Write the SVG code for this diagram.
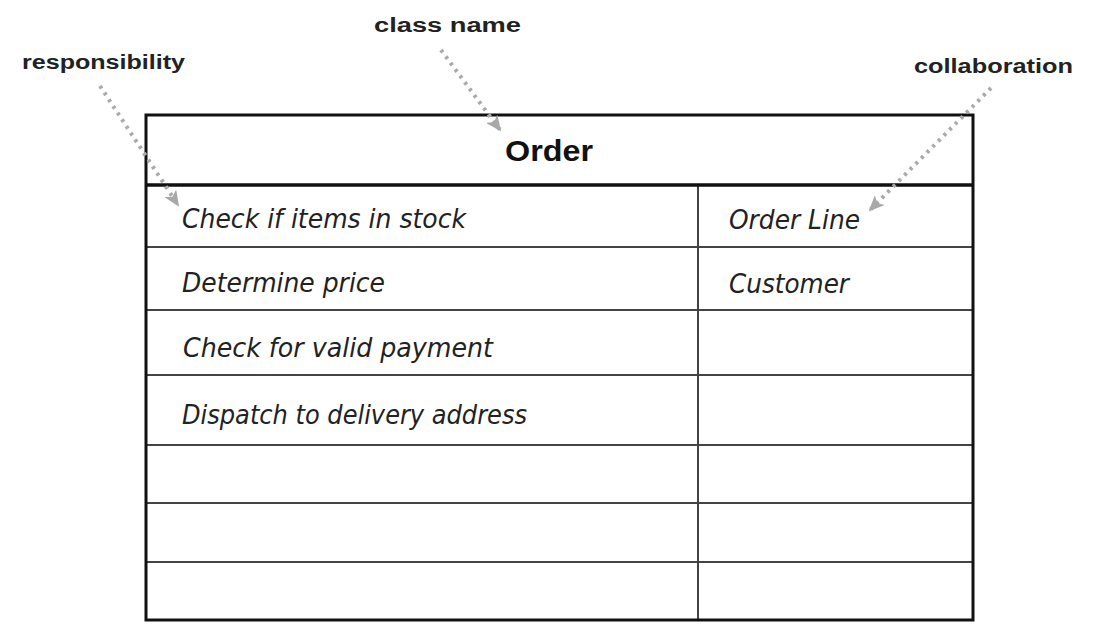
<svg xmlns="http://www.w3.org/2000/svg" width="1102" height="638" viewBox="0 0 1102 638">
<style>
.lbl{font-family:"Liberation Sans",Arial,sans-serif;font-weight:bold;font-size:20px;fill:#222}
.it{font-family:"DejaVu Sans Condensed","DejaVu Sans",sans-serif;font-style:italic;font-size:26px;fill:#222}
.title{font-family:"Liberation Sans",Arial,sans-serif;font-weight:bold;font-size:30px;fill:#111}
.thin{stroke:#444;stroke-width:2;fill:none}
.thick{stroke:#111;stroke-width:3;fill:none}
.conn{stroke:#aaa;stroke-width:4;stroke-dasharray:3 5;fill:none}
</style>
<defs>
<marker id="ah" viewBox="0 0 16 14" refX="14" refY="7" markerWidth="16" markerHeight="14" orient="auto" markerUnits="userSpaceOnUse">
<path d="M0,0 L16,7 L0,14 L4,7 z" fill="#a8a8a8"/>
</marker>
</defs>
<rect width="1102" height="638" fill="#fff"/>
<g id="card">
<line class="thin" x1="698" y1="186" x2="698" y2="620"/>
<line class="thin" x1="146" y1="247" x2="973" y2="247"/>
<line class="thin" x1="146" y1="310" x2="973" y2="310"/>
<line class="thin" x1="146" y1="375" x2="973" y2="375"/>
<line class="thin" x1="146" y1="445" x2="973" y2="445"/>
<line class="thin" x1="146" y1="503" x2="973" y2="503"/>
<line class="thin" x1="146" y1="562" x2="973" y2="562"/>
<line x1="146" y1="185" x2="973" y2="185" stroke="#111" stroke-width="3.5"/>
<rect class="thick" x="146" y="115" width="827" height="505"/>
<text class="title" x="549" y="161" text-anchor="middle" textLength="88" lengthAdjust="spacingAndGlyphs">Order</text>
<text class="it" x="182" y="228" textLength="284" lengthAdjust="spacingAndGlyphs">Check if items in stock</text>
<text class="it" x="182" y="292" textLength="203" lengthAdjust="spacingAndGlyphs">Determine price</text>
<text class="it" x="183" y="357" textLength="310" lengthAdjust="spacingAndGlyphs">Check for valid payment</text>
<text class="it" x="182" y="424" textLength="345" lengthAdjust="spacingAndGlyphs">Dispatch to delivery address</text>
<text class="it" x="729" y="229" textLength="131" lengthAdjust="spacingAndGlyphs">Order Line</text>
<text class="it" x="729" y="293" textLength="120" lengthAdjust="spacingAndGlyphs">Customer</text>
</g>
<g id="label-class-name"><text class="lbl" x="374" y="32" textLength="147" lengthAdjust="spacingAndGlyphs">class  name</text></g>
<g id="label-responsibility"><text class="lbl" x="22" y="69" textLength="163" lengthAdjust="spacingAndGlyphs">responsibility</text></g>
<g id="label-collaboration"><text class="lbl" x="914" y="73" textLength="159" lengthAdjust="spacingAndGlyphs">collaboration</text></g>
<g id="connectors">
<line class="conn" x1="100" y1="86" x2="178" y2="205" marker-end="url(#ah)"/>
<line class="conn" x1="441" y1="50" x2="500" y2="130" marker-end="url(#ah)"/>
<line class="conn" x1="991" y1="88" x2="870" y2="210" marker-end="url(#ah)"/>
</g>
</svg>
